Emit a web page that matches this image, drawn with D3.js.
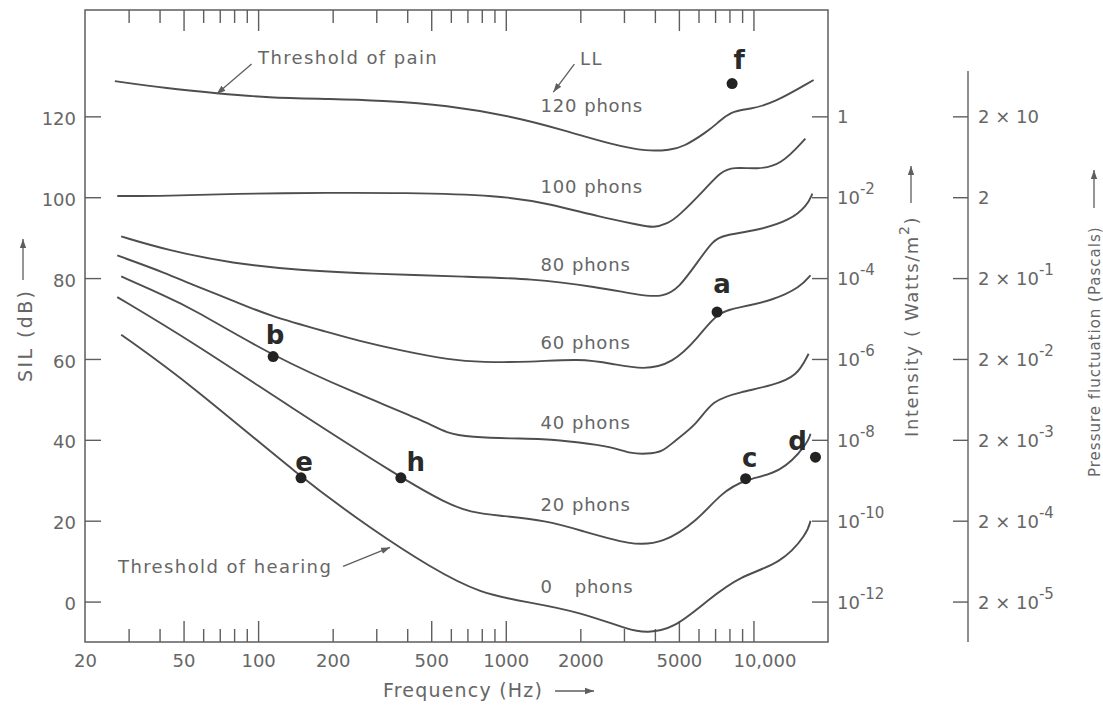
<!DOCTYPE html>
<html>
<head>
<meta charset="utf-8">
<script src="https://cdn.jsdelivr.net/npm/d3@7"></script>
<style>
  body { margin: 0; background: #fff; }
  svg text { font-family: "DejaVu Sans", sans-serif; fill: #666; }
</style>
</head>
<body>
<div id="chart"></div>
<script>
// equal-loudness contours, [frequency (Hz), SIL (dB)]
const phon120 = [[26.4,128.7],[43,126.9],[68,125.7],[109,124.6],[200,124.3],[311,123.9],[580,122.8],[1075,119.9],[1710,116.6],[2730,112.9],[3720,111.3],[4620,111.7],[5200,112.4],[6500,116.2],[7150,118.3],[8100,121.3],[9700,121.8],[12000,123.2],[17500,129.0]];
const phon100 = [[27,100.3],[43,100.3],[79,100.9],[200,101.1],[375,101.1],[950,100.5],[1500,98.4],[2400,95.1],[3500,93.1],[3950,92.4],[4500,93.5],[4950,95.1],[6500,102.5],[7350,106.2],[8300,107.5],[10400,106.9],[12900,107.9],[16200,114.5]];
const phon80 = [[28,90.3],[43,86.9],[79,83.6],[148,81.9],[276,81.1],[720,80.3],[1250,79.9],[2350,77.8],[3500,75.7],[4300,75.3],[5000,77.5],[5950,84],[6900,89.4],[7550,90.6],[10400,91.8],[14100,94.3],[16500,98],[17300,100.9]];
const phon60 = [[27,85.6],[43,81.1],[53,78.6],[79,74.5],[109,70.8],[200,66.3],[250,64.6],[375,62.1],[600,59.7],[800,59.2],[1250,59.2],[2000,60.1],[2700,58.8],[3600,57.3],[4700,58.8],[6000,65.3],[7130,71.6],[8850,72.8],[12000,74.5],[15500,77.8],[17000,80.7]];
const phon40 = [[28,80.4],[43,75.3],[53,72.8],[115,60.6],[250,51.4],[465,44.8],[580,41.5],[720,40.7],[1070,40.3],[1380,40.3],[2000,39.4],[2700,38.2],[3200,36.6],[3700,36.5],[4300,37.0],[4750,39.5],[5950,44],[6800,49.8],[8850,51.8],[12000,53.5],[15000,55.7],[16700,61.3]];
const phon20 = [[27,75.3],[53,64.6],[135,48.1],[377,30.6],[580,24.2],[720,22.1],[920,21.3],[1470,20.0],[2000,17.6],[3200,13.9],[4300,14.3],[5950,20.0],[7350,26.7],[9300,30.4],[12900,31.7],[16500,39.0],[17000,41.5]];
const phon0 = [[28,66],[53,53.9],[149,30.6],[292,17.6],[495,8.5],[790,1.9],[1250,-0.2],[2000,-2.6],[3200,-7.2],[3700,-7.7],[4750,-6.8],[6500,0.2],[8850,6.4],[12900,9.3],[16500,16.8],[17000,20.0]];

const contours = [phon120, phon100, phon80, phon60, phon40, phon20, phon0];
const phonLevels = [120, 100, 80, 60, 40, 20, 0];

// hand-marked points
const pointNames = ["a", "b", "c", "d", "e", "f", "h"];
const pointFreq  = [7130, 115, 9300, 17800, 149, 8200, 377];
const pointSIL   = [71.6, 60.6, 30.4, 35.7, 30.6, 128.1, 30.6];

// axes
const freqMajor = [50, 100, 500, 1000, 5000, 10000];
const freqMinor = [30, 40, 60, 70, 80, 90, 200, 300, 400, 600, 700, 800, 900, 2000, 3000, 4000, 6000, 7000, 8000, 9000];
const freqLabels = [20, 50, 100, 200, 500, 1000, 2000, 5000, 10000];
const silTicks = [0, 20, 40, 60, 80, 100, 120];
const intensityExp = ["", "-2", "-4", "-6", "-8", "-10", "-12"];
const pressureBase = ["2 × 10", "2", "2 × 10", "2 × 10", "2 × 10", "2 × 10", "2 × 10"];
const pressureExp = ["", "", "-1", "-2", "-3", "-4", "-5"];
const rightSIL = [120, 100, 80, 60, 40, 20, 0];

const svg = d3.select("#chart").append("svg")
  .attr("width", 1103)
  .attr("height", 705);

const x = d3.scaleLog().domain([20, 20000]).range([85, 828]);
const y = d3.scaleLinear().domain([-10, 146.3]).range([642, 10]);

const ink = "#5e5e5e";

svg.append("defs").append("marker")
  .attr("id", "head")
  .attr("viewBox", "0 0 10 10")
  .attr("refX", 10).attr("refY", 5)
  .attr("markerWidth", 9).attr("markerHeight", 9)
  .attr("markerUnits", "userSpaceOnUse")
  .attr("orient", "auto")
  .append("path")
  .attr("d", "M0,1.5L10,5L0,8.5z")
  .attr("fill", ink);

function styleTicks(g) {
  g.select(".domain").remove();
  g.selectAll("line").attr("stroke", ink).attr("stroke-width", 1.4);
}

// frame
svg.append("rect")
  .attr("x", 85).attr("y", 10)
  .attr("width", 743).attr("height", 632)
  .attr("fill", "none")
  .attr("stroke", ink)
  .attr("stroke-width", 1.5);

// frequency ticks, bottom and top, pointing inward
[[freqMinor, 13], [freqMajor, 21]].forEach(([vals, len]) => {
  svg.append("g").attr("transform", "translate(0,642)")
    .call(d3.axisBottom(x).tickValues(vals).tickSizeInner(-len).tickSizeOuter(0).tickFormat(""))
    .call(styleTicks);
  svg.append("g").attr("transform", "translate(0,10)")
    .call(d3.axisTop(x).tickValues(vals).tickSizeInner(-len).tickSizeOuter(0).tickFormat(""))
    .call(styleTicks);
});

const bottomLabels = svg.append("g").attr("transform", "translate(0,642)")
  .call(d3.axisBottom(x).tickValues(freqLabels).tickSize(0).tickPadding(12)
    .tickFormat(d => d === 10000 ? "10,000" : d))
  .call(styleTicks);
bottomLabels.selectAll("text").attr("font-size", 18)
  .attr("dx", d => d === 10000 ? 11 : 0);

// SIL axis on the left
const left = svg.append("g").attr("transform", "translate(85,0)")
  .call(d3.axisLeft(y).tickValues(silTicks).tickSizeInner(-16).tickSizeOuter(0).tickPadding(9))
  .call(styleTicks);
left.selectAll("text").attr("font-size", 18).attr("dy", "0.45em");

// intensity axis on the right edge of the frame
svg.append("g").attr("transform", "translate(828,0)")
  .call(d3.axisRight(y).tickValues(rightSIL).tickSizeInner(-16).tickSizeOuter(0).tickFormat(""))
  .call(styleTicks);

const intLab = svg.append("g").selectAll("text")
  .data(rightSIL)
  .join("text")
  .attr("x", 837)
  .attr("y", d => y(d) + 7)
  .attr("font-size", 18);
intLab.append("tspan").text((d, i) => intensityExp[i] === "" ? "1" : "10");
intLab.append("tspan")
  .attr("dy", -10)
  .attr("font-size", 15)
  .text((d, i) => intensityExp[i]);

// pressure axis
svg.append("line")
  .attr("x1", 968).attr("x2", 968)
  .attr("y1", 71).attr("y2", 642)
  .attr("stroke", ink).attr("stroke-width", 1.4);
svg.append("g").attr("transform", "translate(968,0)")
  .call(d3.axisLeft(y).tickValues(rightSIL).tickSizeInner(15).tickSizeOuter(0).tickFormat(""))
  .call(styleTicks);

const presLab = svg.append("g").selectAll("text")
  .data(rightSIL)
  .join("text")
  .attr("x", 978)
  .attr("y", d => y(d) + 7)
  .attr("font-size", 18);
presLab.append("tspan").text((d, i) => pressureBase[i]);
presLab.append("tspan")
  .attr("dy", -10)
  .attr("font-size", 15)
  .text((d, i) => pressureExp[i]);

// contours
const line = d3.line()
  .x(d => x(d[0]))
  .y(d => y(d[1]))
  .curve(d3.curveBasis);

svg.append("g").selectAll("path")
  .data(contours)
  .join("path")
  .attr("d", line)
  .attr("fill", "none")
  .attr("stroke", "#4e4e4e")
  .attr("stroke-width", 1.9);

// phon labels (baseline just above each curve)
const labelSIL = [121, 101, 81.8, 62.4, 42.6, 22.3, 2.2];
const phonText = svg.append("g").selectAll("text")
  .data(phonLevels)
  .join("text")
  .attr("x", x(1380))
  .attr("y", (d, i) => y(labelSIL[i]))
  .attr("font-size", 18)
  .style("letter-spacing", "0.8px");
phonText.append("tspan").text(d => d);
phonText.append("tspan")
  .attr("dx", d => d === 0 ? 22 : 7)
  .text("phons");

// annotations with arrows
function note(label, tx, ty, tipF, tipDb, tailDx, tailDy) {
  svg.append("text")
    .attr("x", tx).attr("y", ty)
    .attr("font-size", 18)
    .style("letter-spacing", "1.4px")
    .text(label);
  const tipX = x(tipF), tipY = y(tipDb);
  svg.append("line")
    .attr("x1", tipX + tailDx).attr("y1", tipY + tailDy)
    .attr("x2", tipX).attr("y2", tipY)
    .attr("stroke", ink).attr("stroke-width", 1.3)
    .attr("marker-end", "url(#head)");
}
note("Threshold of pain", 258, 64, 68, 125.5, 35, -30);
note("LL", 580, 65, 1556, 126, 21, -28);
note("Threshold of hearing", 118, 573, 341, 13.4, -47, 19);

// marked points
svg.append("g").selectAll("circle")
  .data(pointNames)
  .join("circle")
  .attr("cx", (d, i) => x(pointFreq[i]))
  .attr("cy", (d, i) => y(pointSIL[i]))
  .attr("r", 5.5)
  .attr("fill", "#222");

const letterOffset = {a: [5, -19], b: [2, -13], c: [4, -12], d: [-18, -7], e: [3, -7], f: [7, -15], h: [15, -7]};
svg.append("g").selectAll("text")
  .data(pointNames)
  .join("text")
  .attr("x", (d, i) => x(pointFreq[i]) + letterOffset[d][0])
  .attr("y", (d, i) => y(pointSIL[i]) + letterOffset[d][1])
  .attr("text-anchor", "middle")
  .attr("font-size", 26)
  .attr("font-weight", "bold")
  .style("fill", "#2a2a2a")
  .text(d => d);

// axis titles with arrows
function arrow(x1, y1, x2, y2) {
  svg.append("line")
    .attr("x1", x1).attr("y1", y1).attr("x2", x2).attr("y2", y2)
    .attr("stroke", ink).attr("stroke-width", 1.3)
    .attr("marker-end", "url(#head)");
}

svg.append("text")
  .attr("transform", "translate(32,382) rotate(-90)")
  .attr("font-size", 19)
  .style("letter-spacing", "2.4px")
  .text("SIL (dB)");
arrow(23, 280, 23, 239);

svg.append("text")
  .attr("x", 383).attr("y", 697)
  .attr("font-size", 19)
  .style("letter-spacing", "1.2px")
  .text("Frequency (Hz)");
arrow(555, 691, 594, 691);

const intTitle = svg.append("text")
  .attr("transform", "translate(918,437) rotate(-90)")
  .attr("font-size", 18)
  .style("letter-spacing", "1.6px");
intTitle.append("tspan").text("Intensity ( Watts/m");
intTitle.append("tspan").attr("dy", -9).attr("font-size", 14).text("2");
intTitle.append("tspan").attr("dy", 9).text(")");
arrow(911, 203, 911, 166);

svg.append("text")
  .attr("transform", "translate(1100,477) rotate(-90)")
  .attr("font-size", 15)
  .style("letter-spacing", "1px")
  .text("Pressure fluctuation (Pascals)");
arrow(1094, 208, 1094, 170);
</script>
</body>
</html>
